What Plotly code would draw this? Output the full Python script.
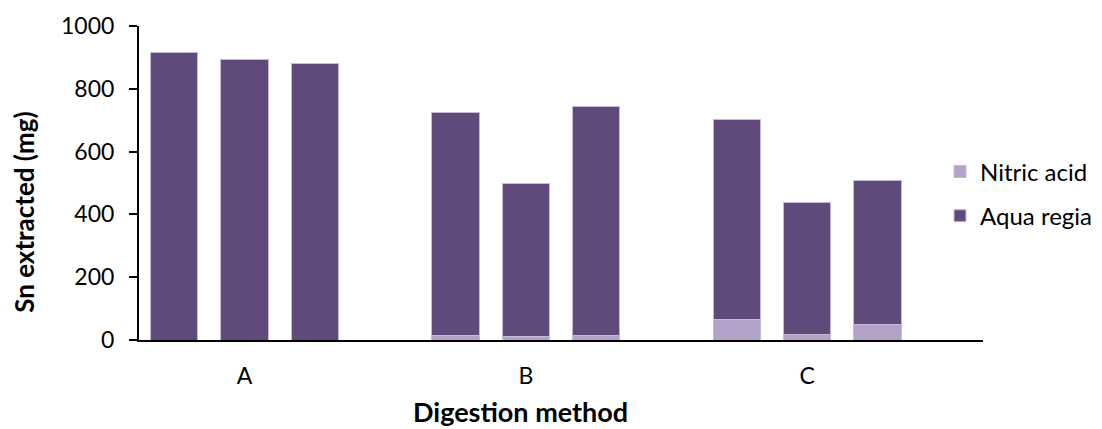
import plotly.graph_objects as go

# Digestion methods and replicate results (three replicates per method)
methods = ["A", "B", "C"]
replicates = 3
nitric_acid = [0, 0, 0, 13, 10, 13, 66, 19, 48]
aqua_regia = [915, 893, 880, 711, 488, 732, 635, 418, 459]
y_ticks = [0, 200, 400, 600, 800, 1000]

# Place replicates side by side with one empty slot between methods
slot = replicates + 1
x_pos = [g * slot + r for g in range(len(methods)) for r in range(replicates)]
method_centres = [g * slot + (replicates - 1) / 2 for g in range(len(methods))]

FONT = "Lato"
edge = dict(color="#C7BAD8", width=1)

fig = go.Figure()
fig.add_trace(go.Bar(
    x=x_pos, y=nitric_acid, name="Nitric acid",
    marker=dict(color="#B3A2C7", line=edge), width=0.67,
    legendgroup="n",
))
fig.add_trace(go.Bar(
    x=x_pos, y=aqua_regia, name="Aqua regia",
    marker=dict(color="#604A7B", line=edge), width=0.67,
    legendgroup="a",
))

fig.update_layout(
    barmode="stack",
    width=1102, height=429,
    margin=dict(l=139, r=119, t=26, b=89, autoexpand=False),
    paper_bgcolor="white", plot_bgcolor="white",
    font=dict(family=FONT, size=23, color="black"),
    legend=dict(
        xref="container", yref="container",
        x=0.853, xanchor="left", y=0.548, yanchor="middle",
        traceorder="grouped", tracegroupgap=10,
        font=dict(family=FONT, size=24, color="black"),
        bgcolor="rgba(0,0,0,0)", itemwidth=30,
    ),
    xaxis=dict(
        automargin=False,
        range=[-0.5, len(methods) * slot - 0.5],
        tickmode="array", tickvals=method_centres, ticktext=methods,
        showline=True, linecolor="black", linewidth=2,
        ticks="", showgrid=False, zeroline=False,
        ticklabelstandoff=14,
        tickfont=dict(family=FONT, size=23),
    ),
    yaxis=dict(
        automargin=False,
        range=[0, 1000],
        tickmode="array", tickvals=y_ticks,
        showline=True, linecolor="black", linewidth=2,
        ticks="outside", ticklen=8, tickwidth=2, tickcolor="black",
        showgrid=False, zeroline=False,
        ticklabelstandoff=10,
        tickfont=dict(family=FONT, size=23),
    ),
    annotations=[
        dict(text="<b>Digestion method</b>", xref="paper", yref="paper",
             x=0.4526, y=-0.229, xanchor="center", yanchor="middle",
             showarrow=False, font=dict(family=FONT, size=27)),
        dict(text="<b>Sn extracted (mg)</b>", xref="paper", yref="paper",
             x=-0.1363, y=0.408, xanchor="center", yanchor="middle", textangle=-90,
             showarrow=False, font=dict(family=FONT, size=26)),
    ],
)

fig.write_html("out.html")
